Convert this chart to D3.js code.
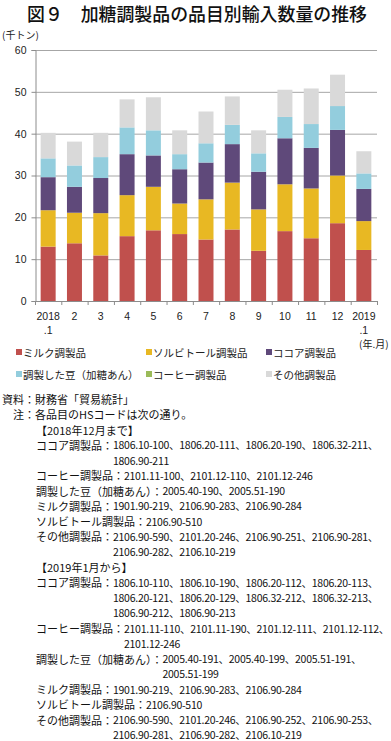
<!DOCTYPE html>
<html><head><meta charset="utf-8">
<script src="https://cdn.jsdelivr.net/npm/d3@7"></script>
<style>
html,body{margin:0;padding:0;background:#fff;}
svg{display:block;font-family:"Noto Sans CJK JP","Noto Sans",sans-serif;}
</style></head>
<body>
<svg id="c" width="391" height="741"></svg>
<script>
// ---- data ----
const months = ["2018\n.1","2","3","4","5","6","7","8","9","10","11","12","2019\n.1"];
const milk     = [13.0,13.8,10.9,15.5,16.9,16.0,14.7,17.1,12.0,16.7,15.0,18.6,12.2];
const sorbitol = [ 8.7, 7.3,10.1, 9.8,10.4, 7.3, 9.6,11.2, 9.9,11.2,11.9,11.4, 6.9];
const cocoa    = [ 7.9, 6.2, 8.4, 9.8, 7.5, 8.2, 8.8, 9.2, 9.0,11.0, 9.7,10.9, 7.7];
const beans    = [ 4.5, 5.1, 5.0, 6.4, 6.0, 3.6, 4.6, 4.6, 4.4, 5.1, 5.7, 5.7, 3.7];
const coffee   = [ 0, 0, 0, 0, 0, 0, 0, 0, 0, 0, 0, 0, 0];
const others   = [ 6.1, 5.7, 5.8, 6.7, 7.9, 5.7, 7.6, 6.8, 5.5, 6.5, 8.5, 7.5, 5.3];
const seriesNames = ["ミルク調製品","ソルビトール調製品","ココア調製品","調製した豆（加糖あん）","コーヒー調製品","その他調製品"];
const seriesColors = ["#c0504d","#e8b823","#5f497a","#93cddd","#9bbb59","#d9d9d9"];
const yTicks = [0,10,20,30,40,50,60];

const title = "図９　加糖調製品の品目別輸入数量の推移";
const notes = [
  {label:"資料：", text:"財務省「貿易統計」", lx:2, jp:true},
  {label:"注：", text:"各品目のHSコードは次の通り。", lx:13, jp:true},
  {label:"", text:"【2018年12月まで】", lx:36},
  {label:"ココア調製品：", text:"1806.10-100、1806.20-111、1806.20-190、1806.32-211、", lx:36},
  {label:"", text:"1806.90-211", lx:36, cont:true},
  {label:"コーヒー調製品：", text:"2101.11-100、2101.12-110、2101.12-246", lx:36},
  {label:"調製した豆（加糖あん）：", text:"2005.40-190、2005.51-190", lx:36},
  {label:"ミルク調製品：", text:"1901.90-219、2106.90-283、2106.90-284", lx:36},
  {label:"ソルビトール調製品：", text:"2106.90-510", lx:36},
  {label:"その他調製品：", text:"2106.90-590、2101.20-246、2106.90-251、2106.90-281、", lx:36},
  {label:"", text:"2106.90-282、2106.10-219", lx:36, cont:true},
  {label:"", text:"【2019年1月から】", lx:36},
  {label:"ココア調製品：", text:"1806.10-110、1806.10-190、1806.20-112、1806.20-113、", lx:36},
  {label:"", text:"1806.20-121、1806.20-129、1806.32-212、1806.32-213、", lx:36, cont:true},
  {label:"", text:"1806.90-212、1806.90-213", lx:36, cont:true},
  {label:"コーヒー調製品：", text:"2101.11-110、2101.11-190、2101.12-111、2101.12-112、", lx:36},
  {label:"", text:"2101.12-246", lx:36, cont:true},
  {label:"調製した豆（加糖あん）：", text:"2005.40-191、2005.40-199、2005.51-191、", lx:36},
  {label:"", text:"2005.51-199", lx:36, cont:true},
  {label:"ミルク調製品：", text:"1901.90-219、2106.90-283、2106.90-284", lx:36},
  {label:"ソルビトール調製品：", text:"2106.90-510", lx:36},
  {label:"その他調製品：", text:"2106.90-590、2101.20-246、2106.90-252、2106.90-253、", lx:36},
  {label:"", text:"2106.90-281、2106.90-282、2106.10-219", lx:36, cont:true}
];

// ---- chart ----
const svg = d3.select("#c");
svg.append("text").attr("x",197).attr("y",12.5).attr("text-anchor","middle")
  .attr("dominant-baseline","central").attr("font-size",18.5).attr("font-weight",500)
  .attr("textLength",340).attr("lengthAdjust","spacingAndGlyphs")
  .attr("fill","#111").text(title);

const pL=35, pR=377, pT=50, pB=301;
const x = d3.scaleBand().domain(d3.range(months.length)).range([pL,pR]).paddingInner(0.43).paddingOuter(0.215);
const y = d3.scaleLinear().domain([0,60]).range([pB,pT]);

// gridlines
svg.append("g").selectAll("line").data(yTicks.filter(d=>d>0)).join("line")
  .attr("x1",pL).attr("x2",pR).attr("y1",d=>y(d)+0.5).attr("y2",d=>y(d)+0.5)
  .attr("stroke","#a6a6a6").attr("stroke-width",1);

// y axis
const yAxis = svg.append("g").attr("transform",`translate(${pL+0.5},0)`)
  .call(d3.axisLeft(y).tickValues(yTicks).tickSize(4).tickPadding(5));
yAxis.select(".domain").attr("stroke","#8c8c8c");
yAxis.selectAll(".tick line").attr("stroke","#8c8c8c");
yAxis.selectAll("text").attr("font-size",10.5).attr("fill","#222").attr("font-family","'Liberation Sans',Arial,sans-serif");

svg.append("text").attr("x",2).attr("y",34).attr("font-size",10).attr("fill","#222")
  .attr("dominant-baseline","central").text("(千トン)");

// stack
const table = months.map((m,i)=>({i, s0:milk[i], s1:sorbitol[i], s2:cocoa[i], s3:beans[i], s4:coffee[i], s5:others[i]}));
const keys = ["s0","s1","s2","s3","s4","s5"];
const stacked = d3.stack().keys(keys)(table);
svg.append("g").selectAll("g").data(stacked).join("g")
  .attr("fill",(d,k)=>seriesColors[k])
  .selectAll("rect").data(d=>d).join("rect")
  .attr("x",d=>x(d.data.i)).attr("width",x.bandwidth())
  .attr("y",d=>y(d[1])).attr("height",d=>Math.max(0,y(d[0])-y(d[1])));

// x axis
svg.append("line").attr("x1",pL).attr("x2",pR).attr("y1",pB+0.5).attr("y2",pB+0.5).attr("stroke","#8c8c8c");
const step = x.step();
svg.append("g").selectAll("line").data(d3.range(months.length+1)).join("line")
  .attr("x1",d=>pL+d*step+0.5).attr("x2",d=>pL+d*step+0.5)
  .attr("y1",pB).attr("y2",pB+4).attr("stroke","#8c8c8c");
const xl = svg.append("g").selectAll("text").data(months).join("text")
  .attr("x",(d,i)=>x(i)+x.bandwidth()/2).attr("y",316)
  .attr("text-anchor","middle").attr("font-size",10.5).attr("fill","#222")
  .attr("font-family","'Liberation Sans',Arial,sans-serif");
xl.each(function(d){
  const parts=d.split("\n");
  const t=d3.select(this);
  parts.forEach((p,k)=>t.append("tspan").attr("x",t.attr("x")).attr("dy",k===0?"0.35em":"14").text(p));
});
svg.append("text").attr("x",359).attr("y",343).attr("font-size",10).attr("fill","#222")
  .attr("dominant-baseline","central").text("(年.月)");

// legend
const legPos = [[16,352],[146,352],[266,352],[16,374],[146,374],[266,374]];
const leg = svg.append("g").selectAll("g").data(seriesNames).join("g")
  .attr("transform",(d,i)=>`translate(${legPos[i][0]},${legPos[i][1]})`);
leg.append("rect").attr("x",0).attr("y",-3).attr("width",6).attr("height",6).attr("fill",(d,i)=>seriesColors[i]);
leg.append("text").attr("x",7).attr("y",0).attr("dominant-baseline","central")
  .attr("font-size",10.5).attr("fill","#222").text(d=>d);

// notes
const ng = svg.append("g").attr("font-size",11).attr("fill","#111");
let contX = 36;
const lineH = 15.27, y0 = 399;
function numText(xx, yy, s){
  ng.append("text").attr("x",xx).attr("y",yy).attr("dominant-baseline","central")
    .attr("font-size",10.5).attr("letter-spacing",-0.27).text(s);
}
notes.forEach((n,k)=>{
  const yy = y0 + k*lineH;
  if(n.cont){
    numText(contX, yy, n.text);
  } else if(n.label){
    const lt = ng.append("text").attr("x",n.lx).attr("y",yy).attr("dominant-baseline","central").text(n.label);
    const w = lt.node().getComputedTextLength();
    contX = n.lx + w;
    if(n.jp){
      ng.append("text").attr("x",contX).attr("y",yy).attr("dominant-baseline","central").text(n.text);
    } else {
      numText(contX, yy, n.text);
    }
  } else {
    ng.append("text").attr("x",n.lx).attr("y",yy).attr("dominant-baseline","central").text(n.text);
  }
});
</script>
</body></html>
